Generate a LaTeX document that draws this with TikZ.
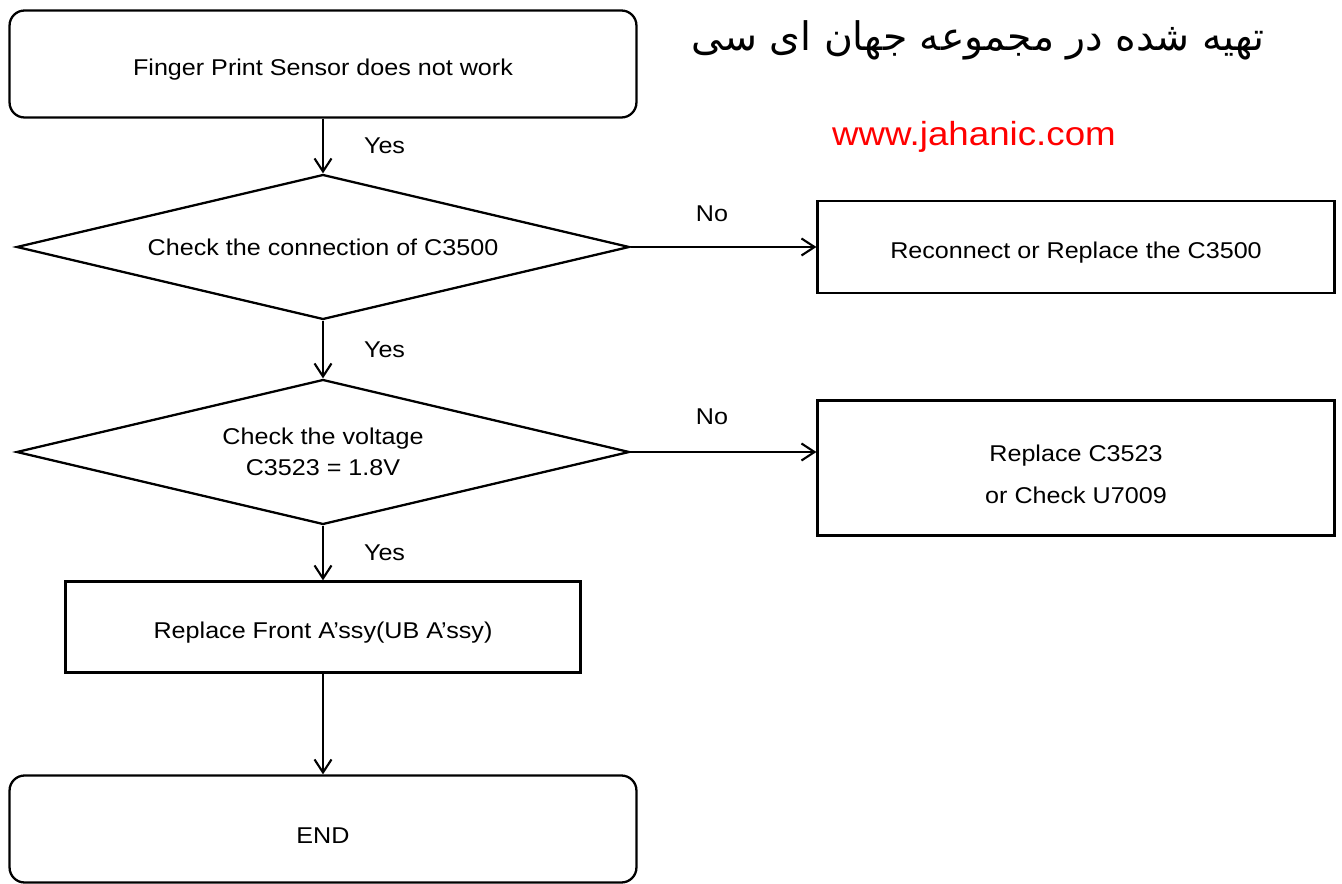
\documentclass[tikz,border=0pt]{standalone}
\usepackage{fontspec}
\setmainfont{Liberation Sans}[FakeStretch=1.1]
\newfontfamily\farsifont[Script=Arabic]{DejaVu Sans}
\TeXXeTstate=1
\usetikzlibrary{shapes.geometric,arrows.meta}
\begin{document}
\begin{tikzpicture}[x=0.02cm, y=-0.02cm,
    every node/.style={font=\fontsize{13}{17.5}\selectfont, align=center},
    termbox/.style={draw, rounded corners=0.3cm, line width=1.3pt, minimum width=12.54cm, minimum height=2.14cm, text height=16pt},
    actbox/.style={draw, line width=1.3pt, text height=16pt},
    check/.style={draw, diamond, aspect=4.2, line width=1.3pt, inner sep=0pt, minimum width=12.26cm, minimum height=2.9cm},
    flow/.style={-{Straight Barb[length=2.6mm, width=3.4mm]}, line width=1.2pt},
    lbl/.style={inner sep=0pt}
]
\useasboundingbox (0,0) rectangle (1342,884);
\node[termbox] (start) at (323,64) {Finger Print Sensor does not work};
\node[check] (conn) at (323,247) {Check the connection of C3500};
\node[actbox, minimum width=10.34cm, minimum height=1.84cm] (reconn) at (1076,247) {Reconnect or Replace the C3500};
\node[check] (volt) at (323,452) {Check the voltage\\C3523 = 1.8V};
\node[actbox, text height=40pt, minimum width=10.34cm, minimum height=2.7cm] (repcap) at (1076,468) {Replace C3523\\[6pt]or Check U7009};
\node[actbox, minimum width=10.3cm, minimum height=1.82cm] (front) at (323,627) {Replace Front A'ssy(UB A'ssy)};
\node[termbox] (end) at (323,829) {END};
\draw[flow] (start) -- (conn) node[lbl, pos=0.5, right=0.8cm] (yes1) {Yes};
\draw[flow] (conn) -- (volt) node[lbl, pos=0.5, right=0.8cm] (yes2) {Yes};
\draw[flow] (volt) -- (front) node[lbl, pos=0.5, right=0.8cm] (yes3) {Yes};
\draw[flow] (front) -- (end);
\draw[flow] (conn.east) -- (reconn.west);
\draw[flow] (volt.east) -- (volt.east -| repcap.west);
\node[lbl] (no1) at (712,214) {No};
\node[lbl] (no2) at (712,417) {No};
\node[font=\farsifont\fontsize{22.4}{27}\selectfont] (title) at (978,40) {\beginR تهیه شده در مجموعه جهان ای سی\endR};
\node[text=red, font=\fontsize{19}{22}\selectfont] (site) at (974,137) {www.jahanic.com};
\end{tikzpicture}
\end{document}
